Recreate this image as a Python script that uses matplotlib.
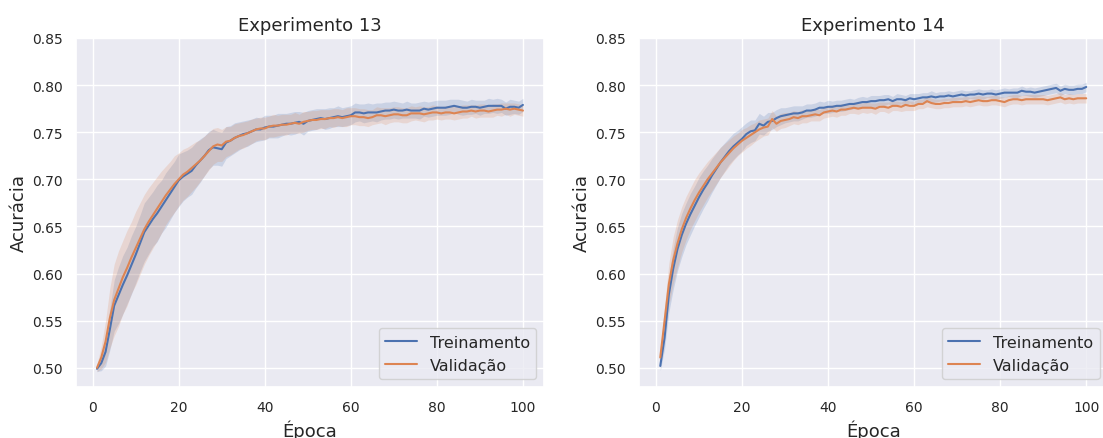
import numpy as np
import matplotlib
matplotlib.use("Agg")
import matplotlib.pyplot as plt
import seaborn as sns

epocas = np.arange(1, 101)

# Experimento 13 - média e meia-largura da faixa
treino_13 = [
    0.499, 0.505, 0.517, 0.541, 0.566, 0.577, 0.588, 0.598, 0.609, 0.620,
    0.632, 0.644, 0.651, 0.658, 0.664, 0.671, 0.678, 0.685, 0.692, 0.699,
    0.703, 0.706, 0.709, 0.715, 0.720, 0.725, 0.731, 0.734, 0.733, 0.732,
    0.739, 0.741, 0.744, 0.746, 0.748, 0.749, 0.751, 0.753, 0.753, 0.755,
    0.756, 0.756, 0.757, 0.758, 0.759, 0.759, 0.760, 0.761, 0.759, 0.762,
    0.763, 0.764, 0.765, 0.764, 0.765, 0.766, 0.767, 0.766, 0.767, 0.768,
    0.771, 0.771, 0.770, 0.771, 0.771, 0.771, 0.772, 0.773, 0.773, 0.774,
    0.773, 0.773, 0.774, 0.773, 0.773, 0.773, 0.775, 0.774, 0.775, 0.776,
    0.776, 0.776, 0.777, 0.778, 0.777, 0.776, 0.776, 0.777, 0.777, 0.776,
    0.777, 0.778, 0.778, 0.778, 0.778, 0.775, 0.777, 0.777, 0.776, 0.779,
]
valid_13 = [
    0.500, 0.511, 0.528, 0.553, 0.572, 0.584, 0.596, 0.606, 0.617, 0.627,
    0.637, 0.647, 0.655, 0.662, 0.669, 0.676, 0.683, 0.689, 0.695, 0.700,
    0.705, 0.708, 0.712, 0.716, 0.720, 0.725, 0.730, 0.735, 0.737, 0.736,
    0.740, 0.741, 0.744, 0.746, 0.747, 0.749, 0.751, 0.753, 0.754, 0.754,
    0.756, 0.757, 0.757, 0.758, 0.758, 0.759, 0.760, 0.759, 0.761, 0.762,
    0.763, 0.763, 0.764, 0.764, 0.765, 0.765, 0.766, 0.765, 0.766, 0.767,
    0.767, 0.766, 0.766, 0.765, 0.766, 0.768, 0.768, 0.767, 0.768, 0.769,
    0.769, 0.768, 0.768, 0.770, 0.770, 0.770, 0.769, 0.770, 0.771, 0.771,
    0.770, 0.771, 0.771, 0.770, 0.771, 0.772, 0.772, 0.773, 0.772, 0.773,
    0.773, 0.772, 0.773, 0.774, 0.774, 0.775, 0.774, 0.775, 0.774, 0.773,
]
faixa_treino_13 = [
    0.003, 0.008, 0.015, 0.022, 0.027, 0.030, 0.031, 0.030, 0.031, 0.030,
    0.030, 0.031, 0.030, 0.029, 0.030, 0.028, 0.029, 0.028, 0.027, 0.028,
    0.026, 0.025, 0.025, 0.024, 0.023, 0.021, 0.020, 0.019, 0.018, 0.018,
    0.017, 0.016, 0.016, 0.015, 0.014, 0.014, 0.013, 0.013, 0.012, 0.013,
    0.012, 0.012, 0.013, 0.012, 0.011, 0.012, 0.012, 0.011, 0.012, 0.011,
    0.011, 0.011, 0.010, 0.011, 0.011, 0.010, 0.011, 0.010, 0.010, 0.010,
    0.010, 0.009, 0.010, 0.010, 0.009, 0.010, 0.009, 0.009, 0.009, 0.009,
    0.009, 0.008, 0.009, 0.008, 0.008, 0.009, 0.008, 0.008, 0.008, 0.008,
    0.008, 0.008, 0.008, 0.007, 0.008, 0.008, 0.007, 0.008, 0.007, 0.008,
    0.007, 0.008, 0.007, 0.008, 0.007, 0.007, 0.008, 0.007, 0.007, 0.007,
]
faixa_valid_13 = [
    0.004, 0.012, 0.022, 0.032, 0.038, 0.040, 0.039, 0.040, 0.038, 0.039,
    0.038, 0.037, 0.036, 0.035, 0.034, 0.033, 0.031, 0.030, 0.030, 0.028,
    0.027, 0.026, 0.025, 0.024, 0.022, 0.021, 0.020, 0.019, 0.018, 0.017,
    0.016, 0.015, 0.015, 0.014, 0.014, 0.013, 0.013, 0.012, 0.012, 0.012,
    0.011, 0.012, 0.011, 0.011, 0.011, 0.010, 0.011, 0.010, 0.011, 0.010,
    0.010, 0.010, 0.010, 0.010, 0.009, 0.010, 0.009, 0.009, 0.010, 0.009,
    0.009, 0.009, 0.009, 0.009, 0.008, 0.009, 0.008, 0.009, 0.008, 0.008,
    0.008, 0.008, 0.008, 0.008, 0.007, 0.008, 0.008, 0.007, 0.008, 0.007,
    0.007, 0.007, 0.007, 0.007, 0.007, 0.007, 0.007, 0.006, 0.007, 0.007,
    0.007, 0.006, 0.007, 0.006, 0.007, 0.006, 0.007, 0.006, 0.006, 0.006,
]

# Experimento 14
treino_14 = [
    0.502, 0.532, 0.578, 0.605, 0.626, 0.641, 0.653, 0.663, 0.672, 0.681,
    0.689, 0.696, 0.704, 0.711, 0.718, 0.724, 0.730, 0.735, 0.739, 0.743,
    0.748, 0.751, 0.752, 0.759, 0.757, 0.761, 0.762, 0.765, 0.767, 0.768,
    0.769, 0.770, 0.770, 0.771, 0.773, 0.773, 0.774, 0.776, 0.776, 0.777,
    0.777, 0.778, 0.778, 0.779, 0.780, 0.780, 0.781, 0.782, 0.782, 0.783,
    0.783, 0.784, 0.784, 0.785, 0.783, 0.785, 0.785, 0.784, 0.786, 0.785,
    0.786, 0.787, 0.787, 0.788, 0.787, 0.788, 0.788, 0.789, 0.788, 0.789,
    0.790, 0.789, 0.790, 0.790, 0.791, 0.790, 0.791, 0.791, 0.790, 0.791,
    0.792, 0.792, 0.792, 0.792, 0.794, 0.793, 0.793, 0.792, 0.793, 0.794,
    0.795, 0.796, 0.797, 0.794, 0.796, 0.795, 0.795, 0.796, 0.796, 0.798,
]
valid_14 = [
    0.511, 0.550, 0.589, 0.614, 0.632, 0.647, 0.659, 0.669, 0.678, 0.686,
    0.693, 0.700, 0.706, 0.712, 0.718, 0.723, 0.728, 0.733, 0.737, 0.741,
    0.744, 0.747, 0.750, 0.753, 0.755, 0.756, 0.764, 0.759, 0.762, 0.763,
    0.764, 0.766, 0.765, 0.767, 0.767, 0.768, 0.769, 0.768, 0.771, 0.772,
    0.773, 0.772, 0.774, 0.774, 0.775, 0.776, 0.775, 0.776, 0.776, 0.776,
    0.775, 0.777, 0.777, 0.776, 0.778, 0.778, 0.777, 0.779, 0.778, 0.778,
    0.780, 0.780, 0.783, 0.781, 0.780, 0.780, 0.781, 0.781, 0.782, 0.782,
    0.782, 0.783, 0.782, 0.783, 0.784, 0.783, 0.783, 0.784, 0.784, 0.783,
    0.782, 0.784, 0.785, 0.785, 0.784, 0.785, 0.785, 0.785, 0.785, 0.785,
    0.784, 0.785, 0.786, 0.787, 0.785, 0.786, 0.785, 0.786, 0.786, 0.786,
]
faixa_treino_14 = [
    0.005, 0.012, 0.019, 0.022, 0.023, 0.023, 0.022, 0.022, 0.021, 0.021,
    0.020, 0.019, 0.018, 0.017, 0.016, 0.015, 0.014, 0.014, 0.013, 0.013,
    0.012, 0.012, 0.011, 0.011, 0.010, 0.010, 0.009, 0.009, 0.009, 0.008,
    0.008, 0.008, 0.008, 0.007, 0.007, 0.007, 0.007, 0.007, 0.006, 0.007,
    0.006, 0.006, 0.006, 0.006, 0.006, 0.005, 0.006, 0.006, 0.005, 0.006,
    0.006, 0.005, 0.006, 0.005, 0.005, 0.006, 0.005, 0.005, 0.005, 0.006,
    0.005, 0.005, 0.005, 0.006, 0.005, 0.005, 0.005, 0.005, 0.005, 0.005,
    0.005, 0.005, 0.004, 0.005, 0.005, 0.005, 0.004, 0.005, 0.005, 0.005,
    0.005, 0.004, 0.005, 0.005, 0.005, 0.004, 0.005, 0.005, 0.005, 0.005,
    0.005, 0.005, 0.005, 0.005, 0.005, 0.005, 0.005, 0.005, 0.005, 0.005,
]
faixa_valid_14 = [
    0.006, 0.015, 0.022, 0.025, 0.025, 0.024, 0.023, 0.022, 0.022, 0.021,
    0.020, 0.019, 0.018, 0.017, 0.016, 0.015, 0.014, 0.013, 0.012, 0.012,
    0.011, 0.011, 0.010, 0.010, 0.009, 0.009, 0.009, 0.008, 0.008, 0.008,
    0.007, 0.007, 0.007, 0.007, 0.007, 0.006, 0.007, 0.006, 0.006, 0.006,
    0.006, 0.006, 0.006, 0.006, 0.005, 0.006, 0.006, 0.005, 0.006, 0.005,
    0.006, 0.005, 0.005, 0.006, 0.005, 0.005, 0.005, 0.006, 0.005, 0.005,
    0.005, 0.005, 0.006, 0.005, 0.005, 0.005, 0.005, 0.005, 0.005, 0.005,
    0.005, 0.005, 0.005, 0.005, 0.005, 0.005, 0.005, 0.005, 0.005, 0.005,
    0.005, 0.005, 0.005, 0.005, 0.005, 0.005, 0.005, 0.005, 0.005, 0.005,
    0.005, 0.005, 0.005, 0.005, 0.005, 0.005, 0.005, 0.005, 0.005, 0.005,
]

titulos = ["Experimento 13", "Experimento 14"]
rotulos = ["Treinamento", "Validação"]

sns.set_theme(style="darkgrid")
plt.rcParams["font.family"] = ["DejaVu Sans"]
cores = sns.color_palette("deep")

fig = plt.figure(figsize=(11.03, 4.39), dpi=100)
ax1 = fig.add_axes([0.0686, 0.1162, 0.4248, 0.795])
ax2 = fig.add_axes([0.5793, 0.1162, 0.4248, 0.795])

dados = [
    (ax1, treino_13, valid_13, faixa_treino_13, faixa_valid_13),
    (ax2, treino_14, valid_14, faixa_treino_14, faixa_valid_14),
]

for i, (ax, tr, va, ftr, fva) in enumerate(dados):
    for serie, faixa, cor, rot in [(tr, ftr, cores[0], rotulos[0]),
                                   (va, fva, cores[1], rotulos[1])]:
        s = np.array(serie)
        f = np.array(faixa)
        ax.fill_between(epocas, s - f, s + f, color=cor, alpha=0.2, linewidth=0)
        ax.plot(epocas, s, color=cor, linewidth=1.5, label=rot)
    ax.set_ylim(0.4797, 0.85)
    ax.set_yticks([0.50, 0.55, 0.60, 0.65, 0.70, 0.75, 0.80, 0.85])
    ax.set_xticks([0, 20, 40, 60, 80, 100])
    ax.tick_params(labelsize=10)
    ax.set_title(titulos[i], fontsize=13)
    ax.set_xlabel("Época", fontsize=13)
    ax.set_ylabel("Acurácia", fontsize=13, labelpad=3)
    ax.legend(loc="lower right", fontsize=11.5)

fig.savefig("out.png", dpi=100)
